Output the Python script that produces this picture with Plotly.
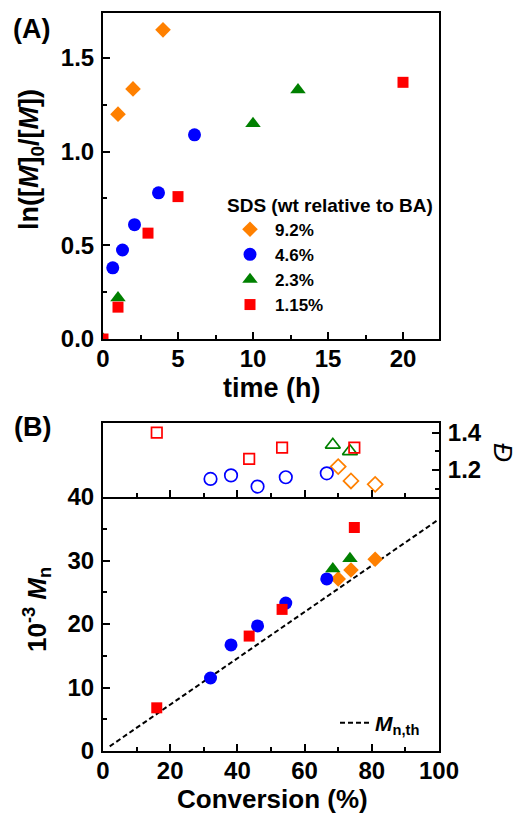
import plotly.graph_objects as go

# ---------------- data ----------------
series_names = ["9.2%", "4.6%", "2.3%", "1.15%"]
colors = ["#FF8000", "#0000FF", "#008000", "#FF0000"]
symbols = ["diamond", "circle", "triangle-up", "square"]
sizes = [12, 13, 13.5, 11]

# Panel A: ln([M]0/[M]) vs time (h)
t_92 = [1, 2, 4]
lnm_92 = [1.20, 1.335, 1.65]
t_46 = [0.65, 1.3, 2.1, 3.7, 6.1]
lnm_46 = [0.38, 0.475, 0.61, 0.78, 1.09]
t_23 = [0, 1, 10, 13]
lnm_23 = [0, 0.22, 1.15, 1.33]
t_115 = [0, 1, 3, 5, 20]
lnm_115 = [0, 0.17, 0.565, 0.76, 1.37]

# Panel B: Mn (x10^-3) and dispersity vs conversion (%)
conv_92 = [70.0, 73.8, 81.0]
mn_92 = [27.1, 28.5, 30.2]
disp_92 = [1.218, 1.141, 1.123]
conv_46 = [32.0, 38.1, 46.0, 54.4, 66.6]
mn_46 = [11.5, 16.7, 19.7, 23.3, 27.1]
disp_46 = [1.152, 1.171, 1.111, 1.161, 1.182]
conv_23 = [68.4, 73.5]
mn_23 = [28.7, 30.3]
disp_23 = [1.335, 1.300]
conv_115 = [16.0, 43.5, 53.3, 74.8]
mn_115 = [6.8, 18.1, 22.3, 35.2]
disp_115 = [1.40, 1.26, 1.32, 1.32]

conv_th = [2, 100]
mn_th = [0.73, 36.5]

A_t = [t_92, t_46, t_23, t_115]
A_y = [lnm_92, lnm_46, lnm_23, lnm_115]
B_x = [conv_92, conv_46, conv_23, conv_115]
B_mn = [mn_92, mn_46, mn_23, mn_115]
B_d = [disp_92, disp_46, disp_23, disp_115]

W, H = 526, 824
FONT = "Liberation Sans"

fig = go.Figure()

for i in range(4):
    fig.add_trace(go.Scatter(
        x=A_t[i], y=A_y[i], mode="markers", name=series_names[i],
        marker=dict(symbol=symbols[i], color=colors[i], size=sizes[i], line=dict(width=0)),
        xaxis="x", yaxis="y", showlegend=True, legend="legend"))
for i in range(4):
    fig.add_trace(go.Scatter(
        x=B_x[i], y=B_d[i], mode="markers", showlegend=False,
        marker=dict(symbol=symbols[i] + "-open", color=colors[i], size=sizes[i] - 0.5,
                    line=dict(width=1.7, color=colors[i])),
        xaxis="x2", yaxis="y2"))
fig.add_trace(go.Scatter(
    x=conv_th, y=mn_th, mode="lines", name="<i>M</i><sub>n,th</sub>",
    line=dict(color="black", width=2, dash="5px,3px"),
    xaxis="x3", yaxis="y3", showlegend=True, legend="legend2"))
for i in range(4):
    fig.add_trace(go.Scatter(
        x=B_x[i], y=B_mn[i], mode="markers", showlegend=False,
        marker=dict(symbol=symbols[i], color=colors[i], size=sizes[i], line=dict(width=0)),
        xaxis="x3", yaxis="y3"))

def px2x(p):
    return p / W

def px2y(p):
    return 1 - p / H

xdom = [px2x(103), px2x(439)]
axcommon = dict(showline=True, linecolor="black", linewidth=2,
                ticks="inside", tickcolor="black", tickwidth=2, ticklen=7,
                showgrid=False, zeroline=False, automargin=False,
                tickfont=dict(size=24, family=FONT, color="black", weight="bold"))
minor_common = dict(ticks="inside", ticklen=4, tickwidth=2, tickcolor="black", showgrid=False)

fig.update_layout(
    template="none",
    width=W, height=H, margin=dict(l=0, r=0, t=0, b=0, pad=0, autoexpand=False),
    paper_bgcolor="white", plot_bgcolor="white",
    font=dict(family=FONT, size=24, color="black", weight="bold"),
    xaxis=dict(domain=xdom, anchor="y", range=[0, 22.4], dtick=5, tick0=0, mirror=True,
               minor=dict(dtick=2.5, **minor_common),
               ticklabelstandoff=-3, **axcommon),
    yaxis=dict(domain=[px2y(339), px2y(13)], anchor="x", range=[0, 1.74], dtick=0.5, tick0=0,
               tickformat=".1f", mirror=True,
               minor=dict(dtick=0.25, **minor_common),
               ticklabelstandoff=2, **axcommon),
    xaxis2=dict(domain=xdom, anchor="y2", range=[0, 100], dtick=20, matches="x3",
                showticklabels=False, mirror=True,
                minor=dict(dtick=10, **minor_common),
                **axcommon),
    yaxis2=dict(domain=[px2y(497), px2y(423)], anchor="x2", side="right",
                range=[1.055, 1.452], dtick=0.2, tick0=1.0, tickformat=".1f", mirror=True,
                minor=dict(dtick=0.1, **minor_common),
                ticklabelstandoff=2, **axcommon),
    xaxis3=dict(domain=xdom, anchor="y3", range=[0, 100], dtick=20, tick0=0, mirror=False,
                minor=dict(dtick=10, **minor_common),
                ticklabelstandoff=-3, **axcommon),
    yaxis3=dict(domain=[px2y(751), px2y(497)], anchor="x3", range=[0, 40], dtick=10, tick0=0,
                mirror=True,
                minor=dict(dtick=5, **minor_common),
                ticklabelstandoff=2, **axcommon),
    legend=dict(x=px2x(225), y=px2y(187), xanchor="left", yanchor="top",
                bgcolor="rgba(0,0,0,0)", borderwidth=0,
                title=dict(text="SDS (wt relative to BA)", font=dict(size=19, family=FONT, weight="bold")),
                font=dict(size=17, family=FONT, color="black", weight="bold"),
                itemwidth=40, tracegroupgap=0),
    legend2=dict(x=px2x(335), y=px2y(723), xanchor="left", yanchor="middle",
                 bgcolor="rgba(0,0,0,0)", borderwidth=0,
                 font=dict(size=21, family=FONT, color="black", weight="bold")),
)

ann = [
    dict(text="(A)", x=px2x(31), y=px2y(29), font=dict(size=27)),
    dict(text="(B)", x=px2x(32), y=px2y(427), font=dict(size=27)),
    dict(text="ln([<i>M</i>]<sub>0</sub>/[<i>M</i>])", x=px2x(31), y=px2y(160), textangle=-90,
         font=dict(size=27)),
    dict(text="time (h)", x=px2x(272), y=px2y(388), font=dict(size=27)),
    dict(text="10<sup>-3</sup> <i>M</i><sub>n</sub>", x=px2x(37), y=px2y(610), textangle=-90,
         font=dict(size=26)),
    dict(text="Conversion (%)", x=px2x(272), y=px2y(799), font=dict(size=26)),
    dict(text="Đ", x=px2x(503), y=px2y(452), textangle=90,
         font=dict(size=26, style="italic", weight="normal")),
]
for a in ann:
    a.update(xref="paper", yref="paper", xanchor="center", yanchor="middle", showarrow=False)
    f = dict(family=FONT, color="black", weight="bold")
    f.update(a["font"])
    a["font"] = f
fig.update_layout(annotations=ann)

fig.write_html("out.html", config={"displayModeBar": False},
               post_script="document.body.style.margin='0px';document.body.style.padding='0px';"
                           "document.body.style.overflow='hidden';")
